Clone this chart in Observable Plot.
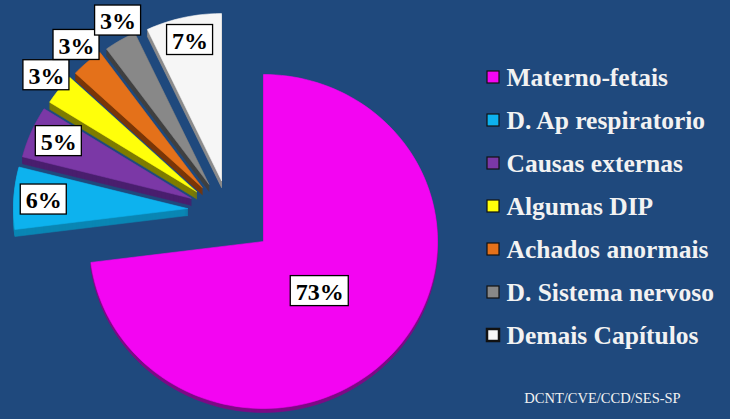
<!DOCTYPE html>
<html>
<head>
<meta charset="utf-8">
<script src="https://cdn.jsdelivr.net/npm/d3@7"></script>
<script src="https://cdn.jsdelivr.net/npm/@observablehq/plot@0.6"></script>
<style>
  html, body { margin: 0; padding: 0; background: #1F497D; }
  #chart { width: 730px; height: 419px; }
</style>
</head>
<body>
<div id="chart"></div>
<script>
// ---- data ----
const categories = ["Materno-fetais", "D. Ap respiratorio", "Causas externas", "Algumas DIP", "Achados anormais", "D. Sistema nervoso", "Demais Capítulos"];
const values = [73, 6, 5, 3, 3, 3, 7];
const labels = ["73%", "6%", "5%", "3%", "3%", "3%", "7%"];
const topColors = ["#F305F2", "#0DB2EE", "#7B38A6", "#FFFF0A", "#E4711A", "#888888", "#F6F6F6"];
const sideColors = ["#7E0A86", "#0A86B4", "#4A1F6E", "#7E7C00", "#7A3606", "#404040", "#8C8C8C"];
const source = "DCNT/CVE/CCD/SES-SP";

// ---- geometry (pixel-like data units) ----
const W = 730, H = 419;
const center = [263, 241];
const RX = 174, RY = 167;
const FONT = "'Liberation Serif', 'Times New Roman', serif";

const total = d3.sum(values);
let acc = 0;
const slices = values.map((v, i) => {
  const a0 = acc / total * 2 * Math.PI;
  acc += v;
  const a1 = acc / total * 2 * Math.PI;
  const mid = (a0 + a1) / 2;
  const u = [Math.sin(mid), -Math.cos(mid)];
  let apex;
  if (i === 0) apex = center.slice();
  else apex = [center[0] - 32.5 + 43.6 * u[0], center[1] - 31 + 30.7 * u[1]];
  const depth = i === 0 ? 4 : 7;
  return {i, v, a0, a1, mid, u, apex, depth};
});

function arcPts(s, dy) {
  const pts = [[s.apex[0], s.apex[1] + dy]];
  const n = Math.max(4, Math.ceil((s.a1 - s.a0) / (Math.PI / 90)));
  for (let k = 0; k <= n; k++) {
    const a = s.a0 + (s.a1 - s.a0) * k / n;
    pts.push([s.apex[0] + RX * Math.sin(a), s.apex[1] - RY * Math.cos(a) + dy]);
  }
  pts.push([s.apex[0], s.apex[1] + dy]);
  return pts;
}

// back-to-front: small slices from top (white) down to cyan, then magenta
const order = [6, 5, 4, 3, 2, 1, 0];
const polys = [];
let pid = 0;
for (const i of order) {
  const s = slices[i];
  for (let d = s.depth; d >= 1; d--) {
    pid++;
    for (const p of arcPts(s, d)) polys.push({id: pid, x: p[0], y: p[1], fill: sideColors[i]});
  }
  pid++;
  for (const p of arcPts(s, 0)) polys.push({id: pid, x: p[0], y: p[1], fill: topColors[i]});
}

// percent labels
const ctx = document.createElement("canvas").getContext("2d");
ctx.font = `bold 24px ${FONT}`;
const boxes = slices.map(s => {
  const r = s.v > 50 ? 75 : (s.v < 4 ? 190 : 144);
  const cx = s.apex[0] + r * s.u[0] + (s.i === 5 ? 6 : 0);
  const cy = s.apex[1] + r * s.u[1];
  const w = ctx.measureText(labels[s.i]).width + 10;
  const h = 30;
  return {cx, cy, x1: cx - w / 2, x2: cx + w / 2, y1: cy - h / 2, y2: cy + h / 2, label: labels[s.i]};
});

// legend
const legend = categories.map((c, i) => ({c, i, x: 493, y: 77 + i * 43.0, fill: topColors[i]}));

const chart = Plot.plot({
  width: W,
  height: H,
  margin: 0,
  x: {domain: [0, W], range: [0, W], axis: null},
  y: {domain: [0, H], range: [0, H], axis: null},
  style: {background: "#1F497D", fontFamily: FONT},
  marks: [
    Plot.line(polys, {x: "x", y: "y", z: "id", fill: "fill", stroke: "fill", strokeWidth: 0.6, curve: "linear"}),
    Plot.rect(boxes, {x1: "x1", x2: "x2", y1: "y1", y2: "y2", fill: "white", stroke: "black", strokeWidth: 1.3}),
    Plot.text(boxes, {x: "cx", y: "cy", text: "label", fill: "black", fontSize: 24, fontWeight: "bold", dy: 1}),
    Plot.rect(legend, {x1: d => d.x - 6, x2: d => d.x + 6, y1: d => d.y - 6, y2: d => d.y + 6, fill: "fill", stroke: "#111", strokeWidth: d => d.i === 6 ? 2.5 : 1.2}),
    Plot.text(legend, {x: 506, y: "y", text: "c", textAnchor: "start", fill: "#F2F2F2", fontSize: 25.5, fontWeight: "bold", dy: 0}),
    Plot.text([source], {x: 602, y: 398, text: d => d, fill: "#F2F2F2", fontSize: 14.5, fontFamily: FONT})
  ]
});
document.getElementById("chart").appendChild(chart);
</script>
</body>
</html>
